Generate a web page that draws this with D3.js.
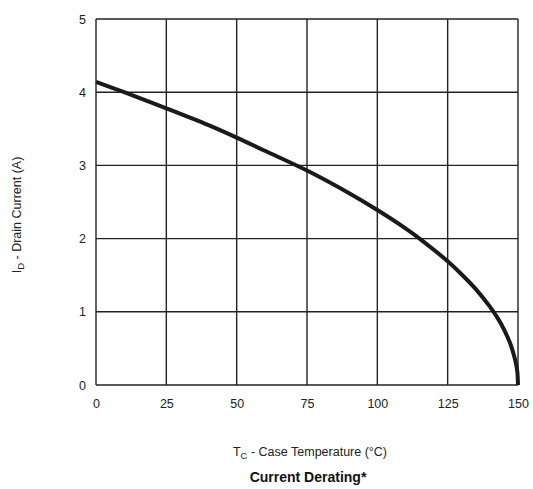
<!DOCTYPE html>
<html><head><meta charset="utf-8">
<script src="https://cdn.jsdelivr.net/npm/d3@7"></script>
<style>body{margin:0;background:#fff;} svg{display:block;font-family:"Liberation Sans",Arial,sans-serif;}</style>
</head><body>
<svg id="c" width="533" height="489"></svg>
<script>
const temps = [0, 10, 25, 40, 50, 60, 75, 90, 100, 110, 115, 125, 130, 135, 140, 143, 145, 147, 148, 149, 149.7, 150];
const current = [4.14, 4.0, 3.78, 3.55, 3.38, 3.2, 2.93, 2.62, 2.39, 2.14, 2.0, 1.69, 1.51, 1.31, 1.07, 0.9, 0.76, 0.59, 0.48, 0.34, 0.2, 0];
const xTicks = [0, 25, 50, 75, 100, 125, 150];
const yTicks = [0, 1, 2, 3, 4, 5];

const svg = d3.select("#c");
const L = 96, R = 518, T = 19, B = 385;
const x = d3.scaleLinear().domain([0, 150]).range([L, R]);
const y = d3.scaleLinear().domain([0, 5]).range([B, T]);

const g = svg.append("g");
g.selectAll(".vx").data(xTicks).enter().append("line")
  .attr("x1", d => x(d)).attr("x2", d => x(d)).attr("y1", T).attr("y2", B)
  .attr("stroke", "#222").attr("stroke-width", 1.4);
g.selectAll(".hy").data(yTicks).enter().append("line")
  .attr("x1", L).attr("x2", R).attr("y1", d => y(d)).attr("y2", d => y(d))
  .attr("stroke", "#222").attr("stroke-width", 1.4);

const xa = d3.axisBottom(x).tickValues(xTicks).tickFormat(d3.format("d")).tickSize(0).tickPadding(14);
const ya = d3.axisLeft(y).tickValues(yTicks).tickFormat(d3.format("d")).tickSize(0).tickPadding(10);
const gx = svg.append("g").attr("transform", `translate(0,${B})`).call(xa);
const gy = svg.append("g").attr("transform", `translate(${L},0)`).call(ya);
[gx, gy].forEach(a => {
  a.select(".domain").remove();
  a.selectAll("text").attr("font-size", 12.5).attr("fill", "#222").attr("font-family", "Liberation Sans, Arial, sans-serif");
});

const data = temps.map((t, i) => [t, current[i]]);
const line = d3.line().x(d => x(d[0])).y(d => y(d[1])).curve(d3.curveCatmullRom.alpha(0.5));
svg.append("path").datum(data).attr("d", line)
  .attr("fill", "none").attr("stroke", "#1a1a1a").attr("stroke-width", 4).attr("stroke-linecap", "butt");

const yl = svg.append("text").attr("transform", "translate(21,215) rotate(-90)")
  .attr("text-anchor", "middle").attr("font-size", 12.5).attr("fill", "#222");
yl.append("tspan").text("I");
yl.append("tspan").text("D").attr("font-size", 9.5).attr("dy", 3);
yl.append("tspan").text(" - Drain Current (A)").attr("dy", -3);

const xl = svg.append("text").attr("x", 310).attr("y", 456)
  .attr("text-anchor", "middle").attr("font-size", 12.5).attr("fill", "#222");
xl.append("tspan").text("T");
xl.append("tspan").text("C").attr("font-size", 9.5).attr("dy", 3);
xl.append("tspan").text(" - Case Temperature (°C)").attr("dy", -3);

svg.append("text").attr("x", 308).attr("y", 482).attr("text-anchor", "middle")
  .attr("font-size", 14).attr("font-weight", "bold").attr("fill", "#111").text("Current Derating*");
</script>
</body></html>
